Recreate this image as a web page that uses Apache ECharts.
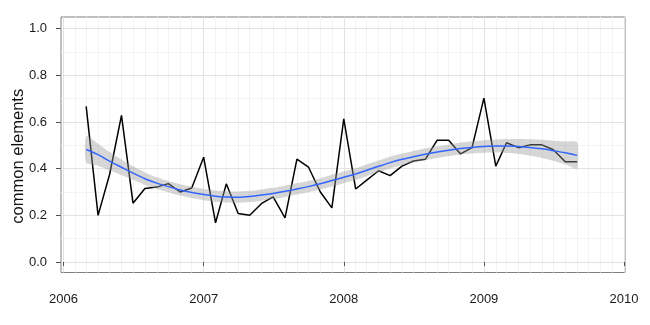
<!DOCTYPE html>
<html><head><meta charset="utf-8">
<script src="https://cdn.jsdelivr.net/npm/echarts@6/dist/echarts.min.js"></script>
<style>html,body{margin:0;padding:0;background:#fff}#c{width:650px;height:325px}</style>
</head><body><div id="c"></div>
<script>
const months = ['2006-03','2006-04','2006-05','2006-06','2006-07','2006-08','2006-09','2006-10','2006-11','2006-12',
  '2007-01','2007-02','2007-03','2007-04','2007-05','2007-06','2007-07','2007-08','2007-09','2007-10','2007-11','2007-12',
  '2008-01','2008-02','2008-03','2008-04','2008-05','2008-06','2008-07','2008-08','2008-09','2008-10','2008-11','2008-12',
  '2009-01','2009-02','2009-03','2009-04','2009-05','2009-06','2009-07','2009-08','2009-09'];
const elements = [0.667,0.200,0.375,0.628,0.252,0.315,0.321,0.336,0.300,0.317,
  0.449,0.168,0.335,0.208,0.200,0.251,0.279,0.189,0.441,0.407,0.300,0.232,
  0.613,0.313,0.351,0.391,0.370,0.411,0.433,0.440,0.522,0.522,0.463,0.490,
  0.702,0.411,0.511,0.490,0.502,0.502,0.481,0.430,0.430];
const smoothFit = [0.482,0.460,0.432,0.406,0.381,0.357,0.338,0.323,0.309,0.298,
  0.289,0.282,0.279,0.278,0.281,0.287,0.294,0.303,0.313,0.323,0.335,0.349,
  0.363,0.377,0.393,0.410,0.426,0.440,0.451,0.462,0.471,0.479,0.486,0.491,
  0.495,0.497,0.497,0.495,0.491,0.485,0.477,0.468,0.457];
const bandUpper = [0.539,0.507,0.471,0.439,0.410,0.384,0.363,0.347,0.333,0.322,
  0.313,0.306,0.303,0.302,0.305,0.311,0.318,0.327,0.337,0.347,0.359,0.374,
  0.388,0.402,0.418,0.435,0.451,0.465,0.476,0.487,0.496,0.504,0.511,0.517,
  0.522,0.525,0.527,0.527,0.526,0.524,0.520,0.517,0.514];
const bandLower = [0.425,0.413,0.393,0.373,0.352,0.330,0.313,0.299,0.285,0.274,
  0.265,0.258,0.255,0.254,0.257,0.263,0.270,0.279,0.289,0.299,0.311,0.324,
  0.338,0.352,0.368,0.385,0.401,0.415,0.426,0.437,0.446,0.454,0.461,0.465,
  0.468,0.469,0.467,0.463,0.456,0.446,0.434,0.419,0.400];
const yearTicks = [2006, 2007, 2008, 2009, 2010];
const yTicks = [0, 0.2, 0.4, 0.6, 0.8, 1.0];
const yMinorTicks = [0.1, 0.3, 0.5, 0.7, 0.9];

function toYear(s) {
  const p = s.split('-').map(Number);
  const t0 = Date.UTC(p[0], 0, 1), t1 = Date.UTC(p[0] + 1, 0, 1);
  return p[0] + (Date.UTC(p[0], p[1] - 1, 1) - t0) / (t1 - t0);
}
const xs = months.map(toYear);
const monthGrid = [];
for (let y = 2006; y < 2010; y++) for (let m = 2; m <= 12; m++) monthGrid.push(toYear(y + '-' + m));

const X0 = 2005.982, X1 = 2010.007, Y0 = -0.045, Y1 = 1.05;
const font = 'Liberation Sans, Arial, Helvetica, sans-serif';

const chart = echarts.init(document.getElementById('c'), null, {renderer: 'canvas'});
chart.setOption({
  animation: false,
  backgroundColor: '#fff',
  grid: {left: 61, right: 25, top: 17, bottom: 52.5, show: true, borderColor: '#808080', borderWidth: 1,
         backgroundColor: 'transparent', containLabel: false, outerBoundsMode: 'none'},
  xAxis: [
    {type: 'value', min: X0, max: X1, position: 'bottom', z: 2,
     axisLine: {show: false},
     axisTick: {show: true, customValues: yearTicks, length: 4, lineStyle: {color: '#555', width: 1}},
     axisLabel: {customValues: yearTicks, formatter: v => String(Math.round(v)), margin: 20,
                 fontSize: 13, color: '#1a1a1a', fontFamily: font},
     splitLine: {show: true, lineStyle: {color: '#e2e2e2', width: 1}}},
    {type: 'value', min: X0, max: X1, position: 'top', z: 1,
     axisLine: {show: false},
     axisTick: {show: false, customValues: monthGrid},
     axisLabel: {show: false},
     splitLine: {show: true, lineStyle: {color: '#f3f3f3', width: 1}}}
  ],
  yAxis: [
    {type: 'value', min: Y0, max: Y1, position: 'left', z: 2,
     name: 'common elements', nameLocation: 'middle', nameGap: 34, nameRotate: 90, nameMoveOverlap: false,
     nameTextStyle: {fontSize: 16.5, color: '#111', fontFamily: font, padding: [0, 23, 0, 0]},
     axisLine: {show: false},
     axisTick: {show: true, customValues: yTicks, length: 5, lineStyle: {color: '#555', width: 1}},
     axisLabel: {customValues: yTicks, formatter: v => v.toFixed(1), margin: 14,
                 fontSize: 13, color: '#1a1a1a', fontFamily: font},
     splitLine: {show: true, lineStyle: {color: '#e2e2e2', width: 1}}},
    {type: 'value', min: Y0, max: Y1, position: 'right', z: 1,
     axisLine: {show: false},
     axisTick: {show: false, customValues: yMinorTicks},
     axisLabel: {show: false},
     splitLine: {show: true, lineStyle: {color: '#f3f3f3', width: 1}}}
  ],
  series: [
    {type: 'line', name: 'elements', xAxisIndex: 0, yAxisIndex: 0, z: 3,
     data: xs.map((x, i) => [x, elements[i]]), showSymbol: false, symbol: 'none',
     lineStyle: {color: '#000', width: 1.5}},
    {type: 'custom', name: 'band', xAxisIndex: 0, yAxisIndex: 0, z: 4,
     data: xs.map((x, i) => [x, bandLower[i], bandUpper[i]]),
     encode: {x: 0, y: [1, 2]},
     renderItem: function (params, api) {
       if (params.dataIndex !== 0) return null;
       const pts = [];
       for (let i = 0; i < xs.length; i++) pts.push(api.coord([xs[i], bandUpper[i]]));
       for (let i = xs.length - 1; i >= 0; i--) pts.push(api.coord([xs[i], bandLower[i]]));
       return {type: 'polygon', shape: {points: pts, smooth: 0.2}, style: {fill: 'rgba(153,153,153,0.4)'}};
     }},
    {type: 'line', name: 'smooth', xAxisIndex: 0, yAxisIndex: 0, z: 5,
     data: xs.map((x, i) => [x, smoothFit[i]]), showSymbol: false, symbol: 'none', smooth: 0.3,
     lineStyle: {color: '#3366FF', width: 1.5}}
  ]
});
</script></body></html>
